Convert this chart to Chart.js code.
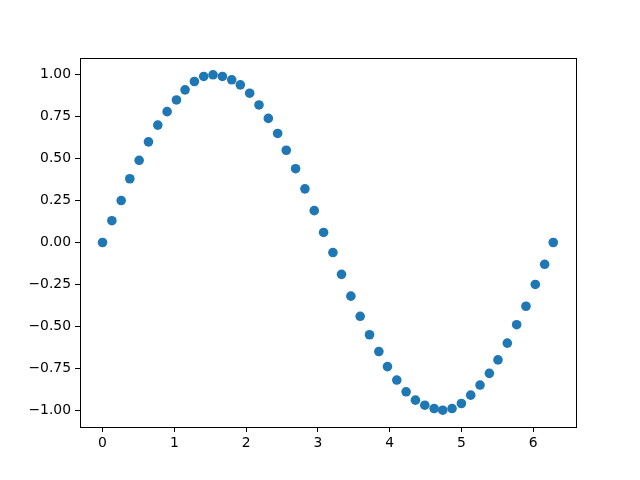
<!DOCTYPE html>
<html>
<head>
<meta charset="utf-8">
<script src="https://cdn.jsdelivr.net/npm/chart.js@4"></script>
<style>
  body { margin: 0; background: #fff; }
  #chart { display: block; }
</style>
</head>
<body>
<canvas id="chart" width="640" height="480"></canvas>
<script>
// values
const xValues = [0.00, 0.13, 0.26, 0.38, 0.51, 0.64, 0.77, 0.90, 1.03, 1.15,
  1.28, 1.41, 1.54, 1.67, 1.80, 1.92, 2.05, 2.18, 2.31, 2.44,
  2.56, 2.69, 2.82, 2.95, 3.08, 3.21, 3.33, 3.46, 3.59, 3.72,
  3.85, 3.97, 4.10, 4.23, 4.36, 4.49, 4.62, 4.74, 4.87, 5.00,
  5.13, 5.26, 5.39, 5.51, 5.64, 5.77, 5.90, 6.03, 6.16, 6.28];
const yValues = [0.00, 0.13, 0.25, 0.38, 0.49, 0.60, 0.70, 0.78, 0.85, 0.91,
  0.96, 0.99, 1.00, 0.99, 0.97, 0.94, 0.89, 0.82, 0.74, 0.65,
  0.55, 0.44, 0.32, 0.19, 0.06, -0.06, -0.19, -0.32, -0.44, -0.55,
  -0.65, -0.74, -0.82, -0.89, -0.94, -0.97, -0.99, -1.00, -0.99, -0.96,
  -0.91, -0.85, -0.78, -0.70, -0.60, -0.49, -0.38, -0.25, -0.13, 0.00];
const xTicks = [0, 1, 2, 3, 4, 5, 6];
const yTicks = [-1.00, -0.75, -0.50, -0.25, 0.00, 0.25, 0.50, 0.75, 1.00];

const points = xValues.map((x, i) => ({ x: x, y: yValues[i] }));

// draws the black box around the plot area, like matplotlib spines
const framePlugin = {
  id: 'frame',
  afterDraw(chart) {
    const a = chart.chartArea;
    const ctx = chart.ctx;
    ctx.save();
    ctx.strokeStyle = '#000';
    ctx.lineWidth = 1;
    ctx.strokeRect(Math.round(a.left) + 0.5, Math.round(a.top) + 0.5,
      Math.round(a.right - a.left), Math.round(a.bottom - a.top));
    ctx.restore();
  }
};

const tickFont = { family: 'DejaVu Sans', size: 13.9 };

const ctx = document.getElementById('chart').getContext('2d');
new Chart(ctx, {
  type: 'scatter',
  data: {
    datasets: [{
      data: points,
      backgroundColor: '#1f77b4',
      borderColor: '#1f77b4',
      borderWidth: 0,
      pointRadius: 4.8,
      pointHoverRadius: 4.8
    }]
  },
  options: {
    responsive: false,
    animation: false,
    layout: { padding: { top: 58, right: 64, left: 0, bottom: 0 } },
    plugins: { legend: { display: false }, tooltip: { enabled: false } },
    scales: {
      x: {
        type: 'linear',
        min: -0.314,
        max: 6.597,
        afterBuildTicks: s => { s.ticks = xTicks.map(v => ({ value: v })); },
        afterFit: s => { s.height = 53; },
        grid: { drawOnChartArea: false, drawTicks: true, tickLength: 5, color: '#000' },
        border: { display: true, color: '#000' },
        ticks: { color: '#000', font: tickFont, padding: 3, maxRotation: 0,
          callback: v => String(v) }
      },
      y: {
        min: -1.1,
        max: 1.1,
        afterBuildTicks: s => { s.ticks = yTicks.map(v => ({ value: v })); },
        afterFit: s => { s.width = 80; },
        grid: { drawOnChartArea: false, drawTicks: true, tickLength: 5, color: '#000' },
        border: { display: true, color: '#000' },
        ticks: { color: '#000', font: tickFont, padding: 4,
          callback: v => v.toFixed(2).replace('-', '\u2212') }
      }
    }
  },
  plugins: [framePlugin]
});
</script>
</body>
</html>
